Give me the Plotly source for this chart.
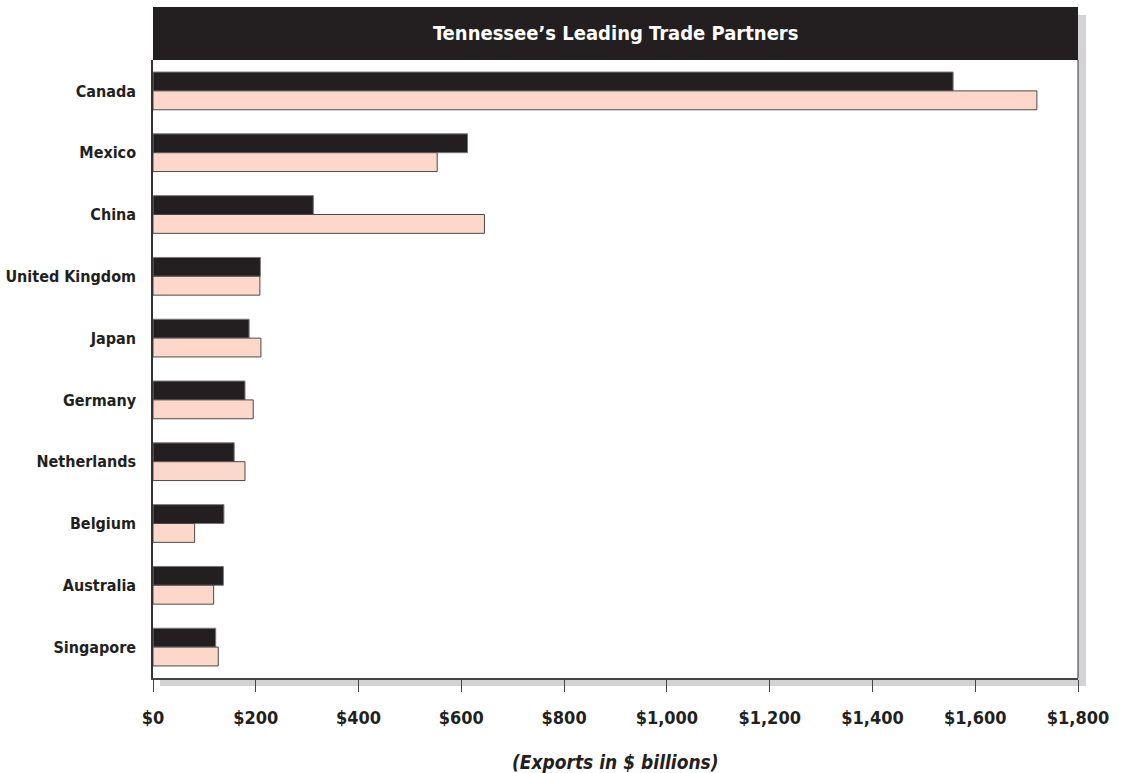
import plotly.graph_objects as go

countries = ["Canada", "Mexico", "China", "United Kingdom", "Japan", "Germany",
             "Netherlands", "Belgium", "Australia", "Singapore"]
series_dark = [1557, 612, 312, 209, 187, 179, 158, 138, 137, 122]
series_pink = [1720, 553, 645, 208, 210, 195, 179, 81, 118, 127]
tick_vals = [0, 200, 400, 600, 800, 1000, 1200, 1400, 1600, 1800]
tick_text = ["$0", "$200", "$400", "$600", "$800", "$1,000", "$1,200", "$1,400", "$1,600", "$1,800"]

FONT = "DejaVu Sans Condensed, Liberation Sans Narrow, Arial Narrow, sans-serif"
INK = "#231f20"

fig = go.Figure()
fig.add_trace(go.Bar(y=countries, x=series_dark, orientation="h", name="Series 1",
                     marker=dict(color=INK, line=dict(color="#777777", width=1))))
fig.add_trace(go.Bar(y=countries, x=series_pink, orientation="h", name="Series 2",
                     marker=dict(color="#fdd8ca", line=dict(color="#4a4a4a", width=1))))

W, H = 925, 618
shapes = [
    dict(type="rect", xref="paper", yref="paper", x0=1, x1=1 + 8 / W,
         y0=-8 / H, y1=1 + 45 / H, fillcolor="#d3d3d5", line=dict(width=0), layer="below"),
    dict(type="rect", xref="paper", yref="paper", x0=7 / W, x1=1 + 8 / W,
         y0=-8 / H, y1=0, fillcolor="#d3d3d5", line=dict(width=0), layer="below"),
    dict(type="rect", xref="paper", yref="paper", x0=0, x1=1,
         y0=1, y1=1 + 53 / H, fillcolor=INK, line=dict(width=0)),
    dict(type="line", xref="paper", yref="paper", x0=1, x1=1, y0=0, y1=1,
         line=dict(color="#333333", width=1)),
]

fig.update_layout(
    width=1126, height=773,
    margin=dict(l=153, r=48, t=60, b=95, autoexpand=False),
    paper_bgcolor="white", plot_bgcolor="white",
    showlegend=False,
    barmode="group", bargap=0.39, bargroupgap=0,
    font=dict(family=FONT, color=INK, size=17),
    shapes=shapes,
    annotations=[
        dict(text="<b>Tennessee’s Leading Trade Partners</b>", xref="paper", yref="paper",
             x=0.5, y=1 + 26.5 / H, showarrow=False, xanchor="center", yanchor="middle",
             font=dict(family=FONT, size=20, color="white")),
        dict(text="<b><i>(Exports in $ billions)</i></b>", xref="paper", yref="paper",
             x=0.5, y=-84 / H, showarrow=False, xanchor="center", yanchor="middle",
             font=dict(family=FONT, size=19, color=INK)),
    ],
    xaxis=dict(range=[0, 1800], tickmode="array", tickvals=tick_vals,
               ticktext=[f"<b>{t}</b>" for t in tick_text],
               ticks="outside", ticklen=12, tickcolor="#444444", tickwidth=1,
               ticklabelstandoff=10,
               showline=True, linecolor="#444444", linewidth=2, showgrid=False,
               zeroline=False, tickfont=dict(family=FONT, size=18, color=INK),
               automargin=False, fixedrange=True),
    yaxis=dict(autorange="reversed", showline=True, linecolor="#333333", linewidth=1.5,
               showgrid=False, ticks="", ticklabelstandoff=12,
               tickmode="array", tickvals=countries,
               ticktext=[f"<b>{c}</b>" for c in countries],
               tickfont=dict(family=FONT, size=16, color=INK),
               automargin=False, fixedrange=True),
)

fig.write_html("out.html", config={"displayModeBar": False},
               post_script="document.body.style.margin='0';document.body.style.overflow='hidden';")
